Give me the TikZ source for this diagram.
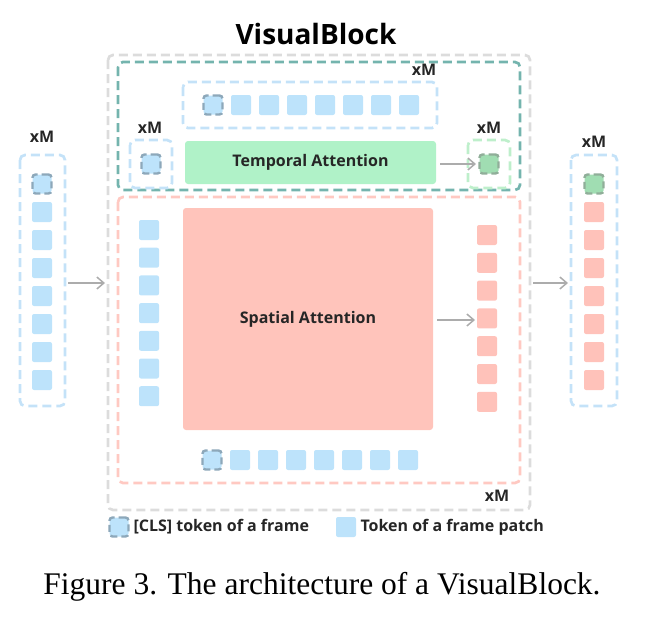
\documentclass[tikz,border=0pt]{standalone}
\usepackage{fontspec}
\setmainfont{Liberation Serif}
\newfontfamily\sans{Open Sans}
\usetikzlibrary{arrows.meta}
\begin{document}
\begin{tikzpicture}[x=1pt,y=-1pt,
 tok/.style={fill=#1,rounded corners=2pt,minimum size=20pt,inner sep=0pt,draw=none},
 cls/.style={fill=#1,rounded corners=3pt,minimum size=19pt,inner sep=0pt,draw=clsb,dashed,line width=2.4pt,dash pattern=on 7pt off 4pt},
 grp/.style={draw=#1,dashed,line width=2.7pt,rounded corners=5pt,dash pattern=on 9pt off 5pt},
 arr/.style={-{Straight Barb[length=7pt,width=12pt]},draw=gray!65,line width=1.5pt},
 lab/.style={font=\sans\bfseries\fontsize{16}{16}\selectfont,text=black!85},
]
\definecolor{tb}{HTML}{BDE3FB}\definecolor{bb}{HTML}{C4E2F8}\definecolor{clsb}{HTML}{8DA8BA}
\definecolor{teal}{HTML}{74B4AE}\definecolor{gf}{HTML}{B0F2C8}\definecolor{rb}{HTML}{FFC9C2}
\definecolor{rf}{HTML}{FFC4BB}\definecolor{rt}{HTML}{FFC2BA}\definecolor{gc}{HTML}{A0DDB2}
\definecolor{gb}{HTML}{BEEFCB}\definecolor{gy}{HTML}{DCDCDC}
\useasboundingbox (0,0) rectangle (663,624);
\node[font=\sans\bfseries\fontsize{28}{28}\selectfont] (title) at (316,34) {VisualBlock};
\draw[grp=gy] (108,55) rectangle (530,510);
\draw[grp=teal] (118,62) rectangle (520,190);
\draw[grp=rb] (118,197) rectangle (520,483);
% top row
\draw[grp=bb] (183,82) rectangle (437,128);
\node[cls=tb] (t0) at (213,105) {};
\foreach \i in {1,...,7}{\node[tok=tb] (t\i) at ({213+28*\i},105) {};}
\node[lab] (xm1) at (424,70) {xM};
% left small
\draw[grp=bb] (130,140) rectangle (172,188);
\node[cls=tb] (lc) at (151,164) {};
\node[lab] (xm2) at (150,128) {xM};
\node[fill=gf,rounded corners=3pt,minimum width=251pt,minimum height=43pt,font=\sans\bfseries\fontsize{16}{16}\selectfont,text=black!85] (ta) at (310.5,162.5) {Temporal Attention};
\draw[grp=gb] (468,140) rectangle (510,188);
\node[cls=gc,draw=gray!50!gc] (gcls) at (489,164) {};
\node[lab] (xm3) at (489,128) {xM};
\coordinate (ta1) at (440,164); \coordinate (ta2) at (476,164);
\draw[arr] (ta1) -- (ta2);
% spatial
\node[fill=rf,rounded corners=3pt,minimum width=250pt,minimum height=222pt,font=\sans\bfseries\fontsize{16}{16}\selectfont,text=black!85] (sa) at (308,319) {Spatial Attention};
\foreach \i in {0,...,6}{\node[tok=tb] (l\i) at (149,{230+27.7*\i}) {};}
\foreach \i in {0,...,6}{\node[tok=rt] (r\i) at (487,{235+27.8*\i}) {};}
\coordinate (sa1) at (437,320); \coordinate (sa2) at (475,320);
\draw[arr] (sa1) -- (sa2);
\node[cls=tb] (b0) at (212,460) {};
\foreach \i in {1,...,7}{\node[tok=tb] (b\i) at ({212+28*\i},460) {};}
\node[lab] (xm4) at (497,496) {xM};
% input
\draw[grp=bb] (20,155) rectangle (65,406);
\node[cls=tb] (i0) at (42,184) {};
\foreach \i in {1,...,7}{\node[tok=tb] (i\i) at (42,{184+28*\i}) {};}
\node[lab] (xm5) at (42,137) {xM};
\coordinate (ia) at (68,283); \coordinate (ib) at (105,283);
\draw[arr] (ia) -- (ib);
% output
\draw[grp=bb] (571,155) rectangle (617,406);
\node[cls=gc,draw=gray!50!gc] (o0) at (594,184) {};
\foreach \i in {1,...,7}{\node[tok=rt] (o\i) at (594,{184+28*\i}) {};}
\node[lab] (xm6) at (594,142) {xM};
\coordinate (oa) at (533,283); \coordinate (ob) at (568,283);
\draw[arr] (oa) -- (ob);
% legend
\node[cls=tb] (lg1) at (119,527) {};
\node[lab,anchor=west] (lt1) at (130,527) {[CLS] token of a frame};
\node[tok=tb] (lg2) at (346,527) {};
\node[lab,anchor=west] (lt2) at (357,527) {Token of a frame patch};
\node[font=\fontsize{31.5}{31.5}\selectfont] (cap) at (322,587) {Figure 3. The architecture of a VisualBlock.};
\end{tikzpicture}
\end{document}
